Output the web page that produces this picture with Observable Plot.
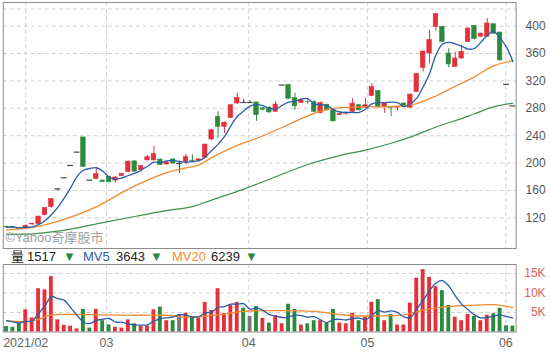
<!DOCTYPE html>
<html><head><meta charset="utf-8">
<script src="https://cdn.jsdelivr.net/npm/d3@7"></script>
<script src="https://cdn.jsdelivr.net/npm/@observablehq/plot@0.6"></script>
<style>
html,body{margin:0;padding:0;background:#fff;}
#chart{position:relative;width:550px;height:354px;overflow:hidden;font-family:"Liberation Sans",Arial,"Noto Sans CJK TC",sans-serif;}
#main{position:absolute;left:0;top:0;}
#vol{position:absolute;left:0;top:262px;}
#legend{position:absolute;left:0;top:249px;width:550px;height:15px;font-size:13px;color:#333;}
#legend span{position:absolute;top:0px;line-height:15px;white-space:nowrap;}
</style></head><body>
<div id="chart"><div id="main"></div><div id="legend"></div><div id="vol"></div></div>
<script>
// ---- data ----
const opens  = [107,106.5,105.5,105,110.5,111,124,136,162.3,178.5,196.5,216,237.5,175,177,174.5,180,174.5,181,187,202.5,190,204,204,205,198,205.3,199.5,202,203.5,203.5,208,234.5,267.6,253,266,287,288.5,288.5,288.5,280,281,275,314,314,295,288,289.5,289,273,285,277,270,272,275,284.5,280.7,298,305,282.5,281,281,287,281,304,339,360,399,399,360,340.6,352.7,377,400.4,384.5,384.5,402.8,390.6,315,283.5];
const closes = [106,105.5,104,108.5,111,122,134.2,147.6,162.3,178.5,196.5,216,194.5,175,184,172.5,172,179,184,202,187.5,195.5,208.5,213.5,197.5,201,199.5,199.5,208.6,203,205.5,227,248,253,259,284.5,295.3,288.5,288.5,270,278,274,285.5,314,294,283,291.5,289,275,287.5,277.5,261,272,273,286.7,277.2,284.5,311,282,287,280.5,281.5,282,300,330,363,379.5,417.5,377,344,352.7,362.5,396.5,381,389,403.8,389,350,315,283.5];
const highs  = [108,107,106,110,112,122,134.2,147.6,162.3,178.5,196.5,216,237.5,175,192,175,181,180,185,203,203,196,211,224.5,206,202,206,203,212.5,211.6,206,227.5,249,275,260,285,301.6,293,291,289,281,282,289.5,314,314,302,293,292,291,289,286,278,273,274,294,285,294.5,316,306,288,282,283,288,301,331,363,394,418,400,367,362,372,397,401,390,411,403,391,315,283.5];
const lows   = [105.5,105,103.5,104,109,110,123,134,159,178.5,196.5,216,194.5,175,176,172,171,171,180,186,187,187,203,203,196.5,197,198,185,198,202,202.5,207,233,236,243,265,286,287,287.5,261,276,273,274,314,293,277,287,286,274,272,276,260,269,270,274,276,280,297,281,272.5,267.6,276,281,280,303,333,345,392.6,376,339,340,352,376,380,384,384,388,349,315,283.5];
const volumes = [1400,1200,2300,5700,3600,11100,10800,14200,3100,1700,1500,800,5800,1000,5800,2900,1800,1200,1000,3100,2100,1500,1500,5700,6400,2900,2900,4500,4800,4000,3600,7600,5500,11100,4700,6800,7600,6100,4000,6500,3500,2300,4200,2100,7100,5800,1800,2100,2900,2900,2300,5800,2300,2100,4800,2900,3800,7600,8300,2900,4500,1800,1800,7400,13800,16000,14000,11600,10600,6800,3800,2900,4500,4000,2900,4300,4700,6100,1600,1517];

// first four 5-day averages (need days before the window)
const ma5Lead  = [106.5,106.3,105.8,106.2];
const mv5Lead  = [2900,2600,2300,2700];

// MA20 / MA60 (price) read at sample days
const ma20Idx = [0,4,9,14,19,25,28,30,32,36,39,43,46,49,52,56,61,64,67,70,73,76,79];
const ma20Val = [102.5,106,118,136,162,186,193,197,208,226,236,252,265,276,281,282,283,287,298,312,326,342,349.5];
const ma60Idx = [0,5,10,15,20,25,29,32,37,42,47,52,56,60,63,68,71,73,76,79];
const ma60Val = [96,97.5,103.5,113,122,130.5,136.5,146,162,180,198,211,219,229,238,256,265,272,282,287.5];
// volume MV20 read at sample days
const mv20Idx = [0,4,7,10,15,20,25,28,32,37,42,48,53,57,62,65,68,72,76,79];
const mv20Val = [2900,2800,4400,4500,4400,4300,4300,3800,4200,5300,5500,5300,4300,4100,4400,5600,6400,6800,7000,6239];

// axes
const priceTicks = [120,160,200,240,280,320,360,400];
const priceTopGrid = [425];
const volTicks = [5000,10000,15000];
const volTickLabels = ["5K","10K","15K"];
const monthLabels = ["2021/02","03","04","05","06"];
const monthPos = [3,15.6,37.8,56.3,77.9];

const legendNames = ["量","MV5","MV20"];
const legendValues = [1517,3643,6239];

// ---- build ----
const RED="#e3303a", GREEN="#2b8a3e", FLAT="#444";
const BLUE="#2d5ca6", ORANGE="#f28b2c", DGREEN="#3f9150";
const candles = opens.map((o,i)=>({i, open:o, close:closes[i], high:highs[i], low:lows[i]}));
const cColor = d => d.close>d.open?RED:(d.close<d.open?GREEN:FLAT);
const ma5 = closes.map((c,i)=> i<4 ? {i, v:ma5Lead[i]} : {i, v:d3.mean(closes.slice(i-4,i+1))});
const vols = volumes.map((v,i)=>({i, v, color: i===0?GREEN:(closes[i]>closes[i-1]?RED:(closes[i]<closes[i-1]?GREEN:"#777"))}));
const mv5 = volumes.map((v,i)=> i<4 ? {i, v:mv5Lead[i]} : {i, v:d3.mean(volumes.slice(i-4,i+1))});
const ma20 = ma20Idx.map((i,k)=>({i, v:ma20Val[k]}));
const ma60 = ma60Idx.map((i,k)=>({i, v:ma60Val[k]}));
const mv20 = mv20Idx.map((i,k)=>({i, v:mv20Val[k]}));
const months = monthLabels.map((label,k)=>({label, pos:monthPos[k]}));

const font = '"Liberation Sans",Arial,"Noto Sans CJK TC",sans-serif';
const xOpt = {domain:[-0.5,79.5], axis:null};
const GRID = "#d2d2d2", DASH="4,3", FRAME="#8c8c8c";
const hw = 0.35;

const main = Plot.plot({
  width:550, height:250, marginTop:2, marginBottom:2, marginLeft:2.8, marginRight:34.4,
  x:xOpt, y:{domain:[75.3,434.5], axis:null}, color:{type:"identity"},
  style:{fontFamily:font, background:"transparent", overflow:"visible"},
  marks:[
    Plot.ruleY(priceTicks.concat(priceTopGrid), {stroke:GRID, strokeDasharray:DASH}),
    Plot.ruleX(monthPos, {stroke:GRID, strokeDasharray:DASH}),
    Plot.ruleX(candles, {x:"i", y1:"low", y2:"high", stroke:cColor, strokeWidth:1}),
    Plot.rect(candles.filter(d=>d.open!==d.close), {x1:d=>d.i-hw, x2:d=>d.i+hw, y1:"open", y2:"close", fill:cColor, stroke:cColor, strokeWidth:0.6}),
    Plot.ruleY(candles.filter(d=>d.open===d.close), {y:"close", x1:d=>d.i-hw-0.1, x2:d=>d.i+hw+0.1, stroke:FLAT, strokeWidth:1.2}),
    Plot.line(ma60, {x:"i", y:"v", stroke:DGREEN, strokeWidth:1.2, curve:"catmull-rom"}),
    Plot.line(ma20, {x:"i", y:"v", stroke:ORANGE, strokeWidth:1.3, curve:"catmull-rom"}),
    Plot.line(ma5, {x:"i", y:"v", stroke:BLUE, strokeWidth:1.3, curve:"catmull-rom"}),
    Plot.frame({stroke:FRAME}),
    Plot.text(priceTicks, {y:d=>d, text:d=>String(d), frameAnchor:"right", dx:29.5, textAnchor:"end", fill:"#555", fontSize:12}),
    Plot.text(["©Yahoo奇摩股市"], {frameAnchor:"bottom-left", dx:2, dy:-7, textAnchor:"start", fill:"#a0a0a0", fontSize:13})
  ]
});
document.getElementById("main").appendChild(main);

const vol = Plot.plot({
  width:550, height:92, marginTop:2, marginBottom:22.5, marginLeft:2.8, marginRight:34.4,
  x:xOpt, y:{domain:[0,17310], axis:null}, color:{type:"identity"},
  style:{fontFamily:font, background:"transparent", overflow:"visible"},
  marks:[
    Plot.ruleY(volTicks, {stroke:GRID, strokeDasharray:DASH}),
    Plot.ruleX(monthPos, {stroke:GRID, strokeDasharray:DASH}),
    Plot.rect(vols, {x1:d=>d.i-0.3, x2:d=>d.i+0.3, y1:0, y2:"v", fill:"color"}),
    Plot.line(mv20, {x:"i", y:"v", stroke:ORANGE, strokeWidth:1.3, curve:"catmull-rom"}),
    Plot.line(mv5, {x:"i", y:"v", stroke:BLUE, strokeWidth:1.3, curve:"catmull-rom"}),
    Plot.frame({stroke:FRAME}),
    Plot.text(volTicks, {y:d=>d, text:volTickLabels, frameAnchor:"right", dx:29.5, textAnchor:"end", fill:"#e0605c", fontSize:12}),
    Plot.text(months, {x:"pos", text:"label", frameAnchor:"bottom", dy:14.5, fill:"#666", fontSize:12.5})
  ]
});
document.getElementById("vol").appendChild(vol);

// legend
const lg = document.getElementById("legend");
const legendColors = ["#222", BLUE, ORANGE];
const nameLeft = [11, 83, 172], valLeft = [27, 116, 211], triLeft = [63, 150, 245];
legendNames.forEach((n,k)=>{
  const a=document.createElement("span"); a.textContent=n; a.style.left=nameLeft[k]+"px"; a.style.color=legendColors[k]; lg.appendChild(a);
  const b=document.createElement("span"); b.textContent=String(legendValues[k]); b.style.left=valLeft[k]+"px"; b.style.color="#222"; lg.appendChild(b);
  const c=document.createElement("span"); c.textContent="▼"; c.style.left=triLeft[k]+"px"; c.style.color=GREEN; c.style.fontSize="13px"; lg.appendChild(c);
});
</script>
</body></html>
